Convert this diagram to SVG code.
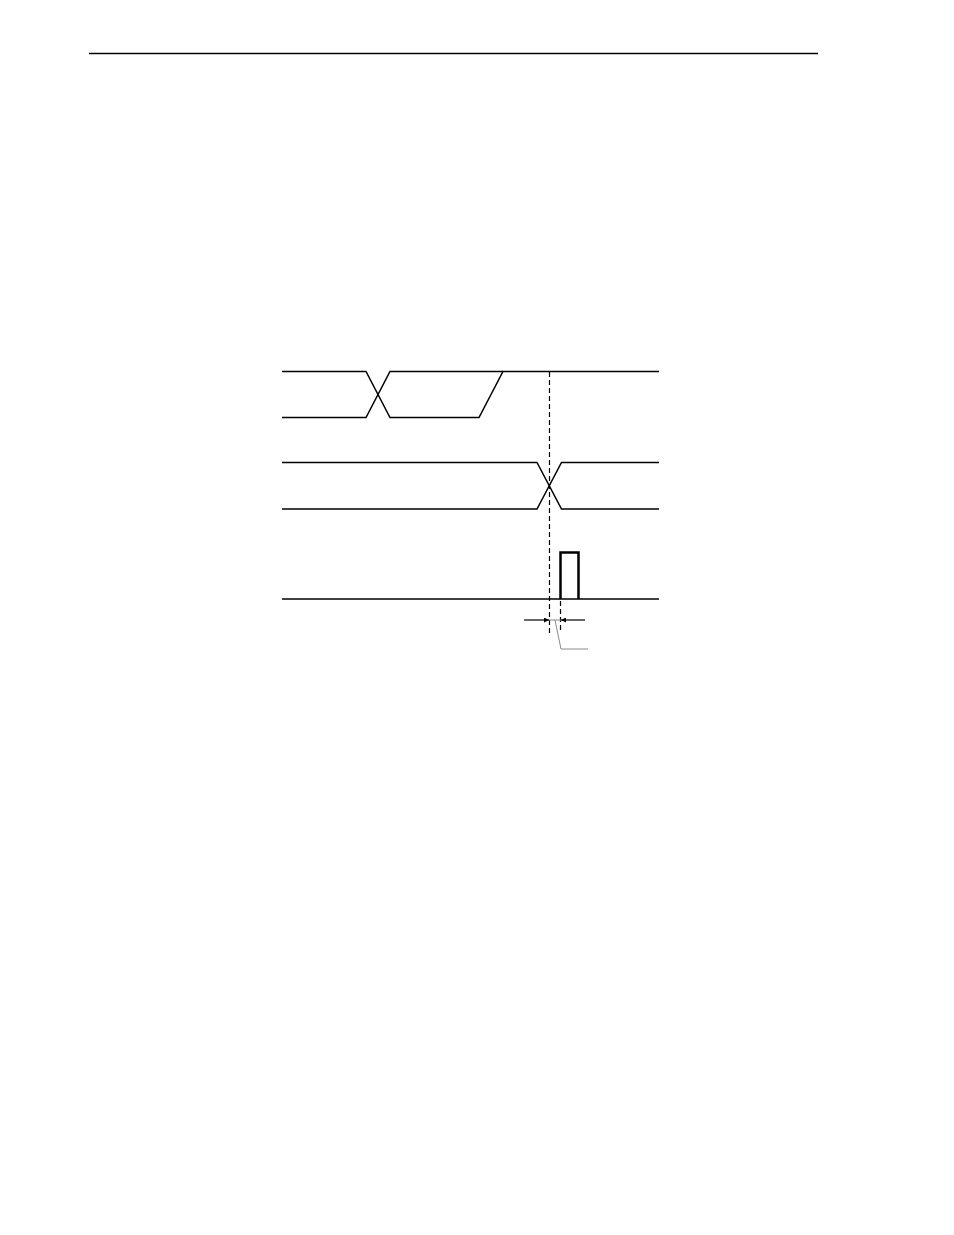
<svg xmlns="http://www.w3.org/2000/svg" width="954" height="1235" viewBox="0 0 954 1235">
<style>
.sig{fill:none;stroke:#000;stroke-width:1.5;stroke-linejoin:miter}
.pulse{fill:none;stroke:#000;stroke-width:2.5}
.dash{fill:none;stroke:#000;stroke-width:1.2;stroke-dasharray:5,3}
.dim{fill:none;stroke:#000;stroke-width:1.2}
.lead{fill:none;stroke:#8a8a8a;stroke-width:1}
</style>
<defs>
<marker id="ah" viewBox="0 0 10 10" refX="10" refY="5" markerWidth="7" markerHeight="5" markerUnits="userSpaceOnUse" orient="auto">
<path d="M0,0 L10,5 L0,10 z" fill="#000"/>
</marker>
</defs>
<rect width="954" height="1235" fill="#fff"/>
<line x1="89" y1="53.5" x2="818" y2="53.5" stroke="#000" stroke-width="1.3"/>
<g id="signal1">
<path class="sig" d="M282,371.5 H366 L390,417.5 H479 L503,371.5 H659"/>
<path class="sig" d="M282,417.5 H366 L390,371.5 H503"/>
</g>
<g id="signal2">
<path class="sig" d="M282,462.5 H537 L561.5,509 H659"/>
<path class="sig" d="M282,509 H537 L561.5,462.5 H659"/>
</g>
<g id="signal3">
<path class="sig" d="M282,599 H659"/>
<path class="pulse" d="M560.5,599 V552.5 H578.5 V599"/>
</g>
<g id="connectors">
<line class="dash" x1="549.5" y1="372" x2="549.5" y2="633"/>
<line class="dash" x1="560.5" y1="601" x2="560.5" y2="633"/>
<line class="dim" x1="524" y1="620" x2="549" y2="620" marker-end="url(#ah)"/>
<line class="dim" x1="585" y1="620" x2="561" y2="620" marker-end="url(#ah)"/>
<line class="lead" x1="549" y1="620" x2="561" y2="620"/>
<path class="lead" d="M555,620 L561,649 H588"/>
</g>
</svg>
